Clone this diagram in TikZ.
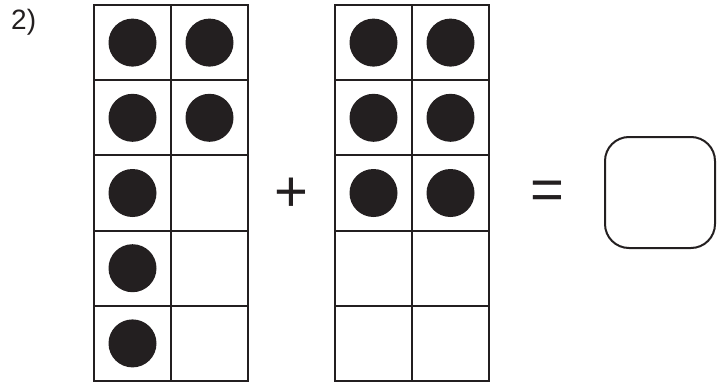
\documentclass[tikz,border=0pt]{standalone}
\usepackage{fontspec}
\setmainfont{Liberation Sans}
\definecolor{ink}{HTML}{231F20}

\begin{document}
\begin{tikzpicture}[
    x=1pt, y=-1pt,                          % <- 1 unit = 1 px of the sheet, y runs down
    frameline/.style={draw=ink, line width=2.6pt},
    cellline/.style={draw=ink, line width=1.9pt},
    counter/.style={circle, fill=ink, inner sep=0pt, minimum size=48pt},
    opsign/.style={text=ink, inner sep=0pt, font=\fontsize{58}{58}\selectfont},
    answerbox/.style={draw=ink, line width=2pt, rounded corners=24pt},
  ]
  \useasboundingbox (0,0) rectangle (726,383);

  % ---------- exercise number ----------
  \node[text=ink, inner sep=0pt, anchor=north west, font=\fontsize{28}{28}\selectfont] (num) at (11,9) {2)};

  % ---------- ten-frames (x0 = left edge, 2 columns x 5 rows) ----------
  \foreach \fr/\xo in {a/94, b/335}{%
    \draw[cellline] (\xo+77,5) -- (\xo+77,381);
    \foreach \r in {1,...,4}
      \draw[cellline] (\xo,5+75.2*\r) -- (\xo+154,5+75.2*\r);
    \draw[frameline] (\xo,5) rectangle (\xo+154,381);
  }

  % ---------- counters: frame a holds 7, frame b holds 6 ----------
  \foreach \c/\r in {0/0, 1/0, 0/1, 1/1, 0/2, 0/3, 0/4}
    \node[counter] (a\c\r) at (94+38.5+77*\c, 5+37.6+75.2*\r) {};
  \foreach \c/\r in {0/0, 1/0, 0/1, 1/1, 0/2, 1/2}
    \node[counter] (b\c\r) at (335+38.5+77*\c, 5+37.6+75.2*\r) {};

  % ---------- signs and answer box ----------
  \node[opsign] (plus) at (291,195) {+};
  \node[opsign] (equals) at (547,195.5) {=};
  \node[answerbox, minimum width=110pt, minimum height=111pt] (answer) at (660,192.5) {};

\end{tikzpicture}
\end{document}
